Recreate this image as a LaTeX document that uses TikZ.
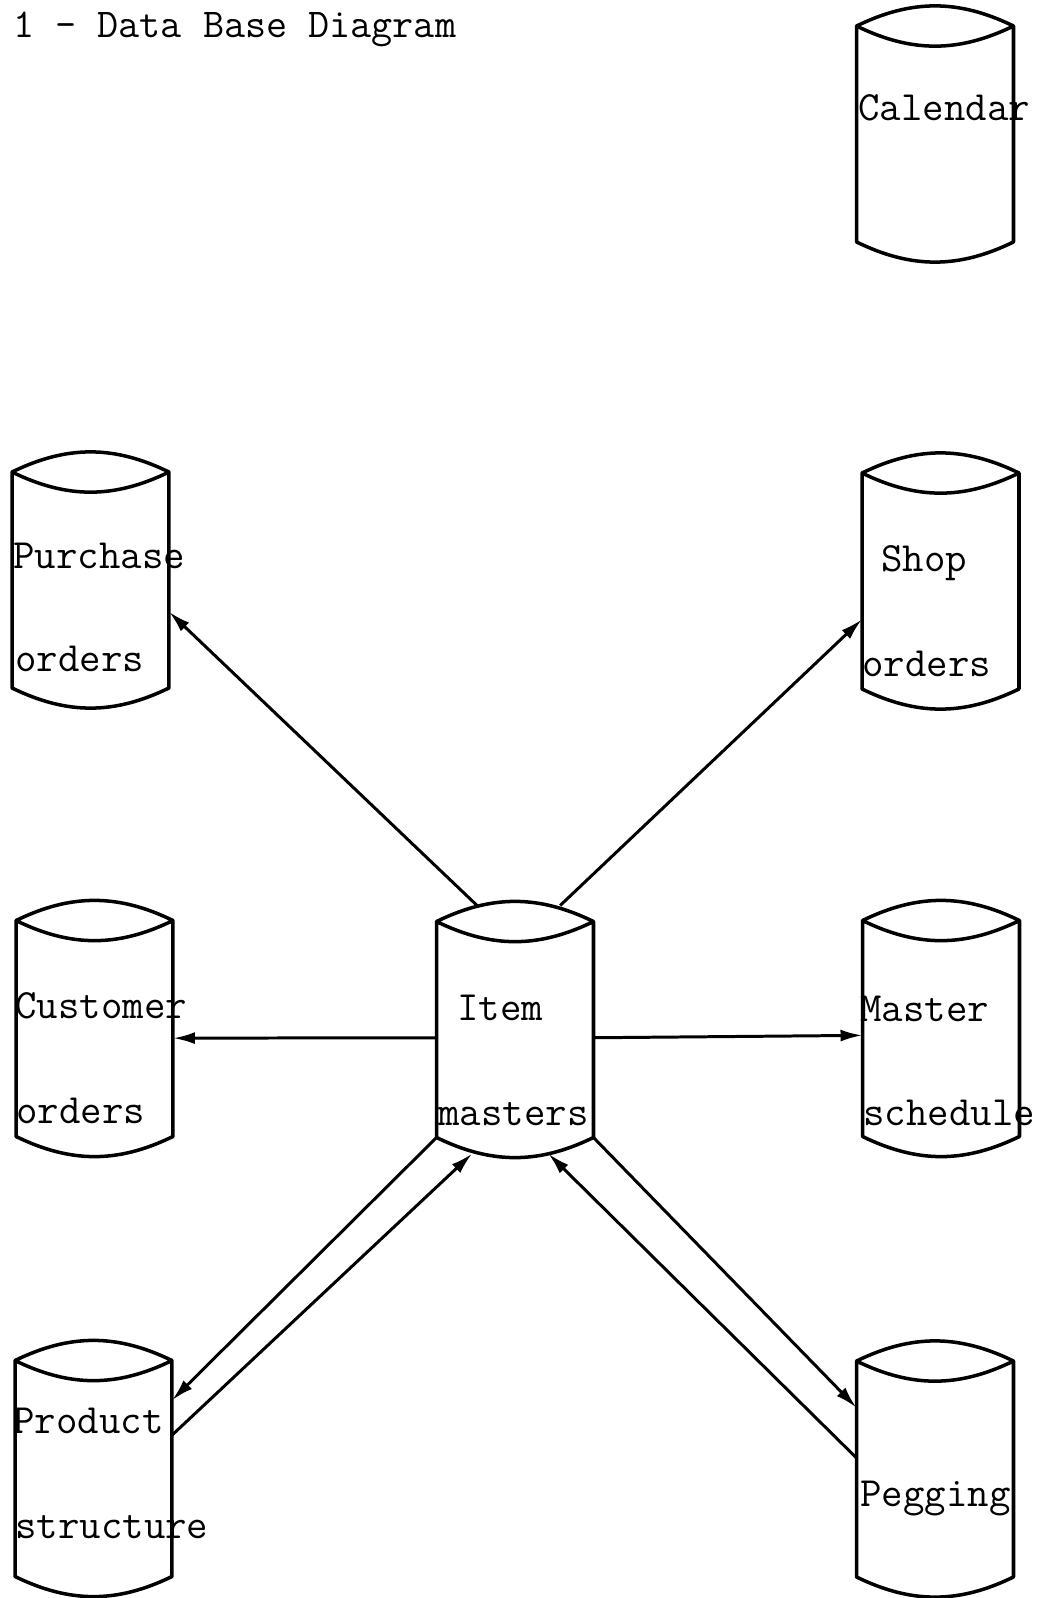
\documentclass[tikz,border=0pt]{standalone}
\usepackage{fontspec}
\usepackage{tikz}
\usetikzlibrary{arrows.meta}

\begin{document}
\begin{tikzpicture}[x=0.02cm,y=-0.02cm]
\tikzset{dbfile/.style = {shape=rectangle,minimum width=3.14cm,minimum height=4.96cm,inner sep=0pt,outer sep=0pt}}
\tikzset{fileline/.style = {line width=2pt,line join=round}}
\tikzset{filetext/.style = {anchor=base west,inner sep=0pt,font=\ttfamily\fontsize{23.7}{28}\selectfont}}
\tikzset{titletext/.style = {anchor=base west,inner sep=0pt,font=\ttfamily\fontsize{23.3}{28}\selectfont}}
\tikzset{edge/.style = {->,> = {Latex[length=0.44cm,width=0.24cm]},line width=1.7pt}}
\useasboundingbox (0,0) rectangle (1040,1598);
% title
\node[titletext] (title) at (13,38) {1 - Data Base Diagram};
% files
\node[dbfile] (cal)  at (935,134)     {};
\node[dbfile] (pur)  at (90.5,580)    {};
\node[dbfile] (shop) at (940.5,581)   {};
\node[dbfile] (cust) at (94.5,1028.5) {};
\node[dbfile] (item) at (515,1029.5)  {};
\node[dbfile] (mast) at (941,1028.5)  {};
\node[dbfile] (prod) at (93.5,1468.5) {};
\node[dbfile] (peg)  at (935,1469)    {};
% cylinder outlines
\foreach \f in {cal,pur,shop,cust,item,mast,prod,peg}
  \draw[fileline] ([yshift=-0.32cm]\f.north west) -- ([yshift=0.32cm]\f.south west)
    to[bend right=26] ([yshift=0.32cm]\f.south east) -- ([yshift=-0.32cm]\f.north east)
    to[bend right=26] ([yshift=-0.32cm]\f.north west)
    to[bend right=26] ([yshift=-0.32cm]\f.north east);
% file names
\node[filetext] (cal-a)  at (858,121)  {Calendar};
\node[filetext] (pur-a)  at (13,568)   {Purchase};
\node[filetext] (pur-b)  at (15,671)   {orders};
\node[filetext] (shop-a) at (881,571)  {Shop};
\node[filetext] (shop-b) at (862,676)  {orders};
\node[filetext] (cust-a) at (15,1018)  {Customer};
\node[filetext] (cust-b) at (16,1123)  {orders};
\node[filetext] (item-a) at (457,1020) {Item};
\node[filetext] (item-b) at (438,1125) {masters};
\node[filetext] (mast-a) at (860,1021) {Master};
\node[filetext] (mast-b) at (863,1125) {schedule};
\node[filetext] (prod-a) at (13,1433)  {Product};
\node[filetext] (prod-b) at (15,1538)  {structure};
\node[filetext] (peg-a)  at (860,1506) {Pegging};
% edges
\draw[edge] (item.107) -- (pur.-22);
\draw[edge] (item.70)  -- (shop.206);
\draw[edge] (item.186) -- (cust.-7);
\draw[edge] (item.-6)  -- (mast.185);
\draw[edge] (item.234) -- (prod.41);
\draw[edge] (prod.23)  -- (item.251);
\draw[edge] (item.-54) -- (peg.142);
\draw[edge] (peg.172)  -- (item.-75);
\end{tikzpicture}
\end{document}
